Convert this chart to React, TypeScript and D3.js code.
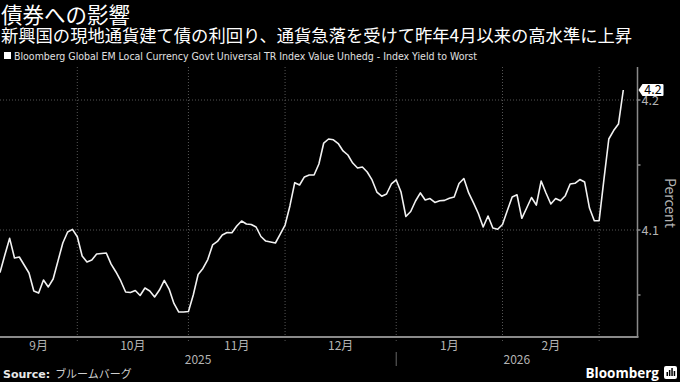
import React from "react";
import * as d3 from "d3";

const TITLE = "債券への影響";
const SUBTITLE = "新興国の現地通貨建て債の利回り、通貨急落を受けて昨年4月以来の高水準に上昇";
const LEGEND = "Bloomberg Global EM Local Currency Govt Universal TR Index Value Unhedg - Index Yield to Worst";
const SOURCE_LABEL = "Source:";
const SOURCE_TEXT = "ブルームバーグ";
const UNIT = "Percent";

// Trading days (weekdays) from 2025-09-09 to 2026-03-09
const START_DATE = new Date(2025, 8, 9);
const END_DATE = new Date(2026, 2, 10);

const yields = [
  4.0672, 4.0808, 4.0936, 4.0785, 4.0792, 4.0731, 4.0669, 4.0531, 4.0515, 4.0615,
  4.0562, 4.0623, 4.0762, 4.09, 4.0985, 4.1005, 4.0948, 4.08, 4.0754, 4.0769,
  4.0815, 4.0819, 4.0823, 4.0738, 4.0677, 4.0608, 4.0523, 4.0519, 4.0535, 4.0496,
  4.0554, 4.0531, 4.0485, 4.0538, 4.0612, 4.0546, 4.0435, 4.0369, 4.0369, 4.0373,
  4.05, 4.0658, 4.0704, 4.0773, 4.0885, 4.0912, 4.0962, 4.0981, 4.0979, 4.1031,
  4.1069, 4.1046, 4.1042, 4.1023, 4.095, 4.0915, 4.0908, 4.09, 4.0969, 4.1038,
  4.1185, 4.1364, 4.1346, 4.1408, 4.1423, 4.1423, 4.1508, 4.1669, 4.17, 4.1694,
  4.1665, 4.1608, 4.1577, 4.1515, 4.1477, 4.1485, 4.1446, 4.1385, 4.1292, 4.126,
  4.1277, 4.1354, 4.1385, 4.1292, 4.1104, 4.1142, 4.1223, 4.1285, 4.1231, 4.1242,
  4.1212, 4.1225, 4.1228, 4.1244, 4.1254, 4.1358, 4.1396, 4.1285, 4.1208, 4.1127,
  4.1023, 4.1108, 4.1015, 4.1006, 4.1042, 4.115, 4.1254, 4.1271, 4.109, 4.1169,
  4.125, 4.1192, 4.1377, 4.1285, 4.12, 4.1242, 4.1225, 4.1264, 4.1354, 4.1359,
  4.1388, 4.1369, 4.1169, 4.1071, 4.1072, 4.1392, 4.17, 4.1765, 4.1815, 4.2077,
];

const monthLabels = ["9月", "10月", "11月", "12月", "1月", "2月"];
const yearLabels = ["2025", "2026"];
const yTickValues = [4.1, 4.2];
const yMinorTickValues = [4.05, 4.15];
const LAST_LABEL = "4.2";

const W = 680;
const H = 382;
const PLOT_LEFT = 0;
const PLOT_RIGHT = 637.5;
const PLOT_TOP = 67;
const PLOT_BOTTOM = 337;

const JP = "'Noto Sans CJK JP', 'Noto Sans', sans-serif";
const GRAY = "#b4b4b4";

export default function App() {
  const days = d3.timeDay
    .range(START_DATE, END_DATE)
    .filter((d) => d.getDay() !== 0 && d.getDay() !== 6)
    .slice(0, yields.length);
  const data = yields.map((v, i) => ({ i, v, d: days[i] }));

  const x = d3.scaleLinear().domain([0, 129]).range([0, 623.3]);
  const y = d3.scaleLinear().domain([4.1, 4.2]).range([230, 100]);

  const line = d3
    .line<{ i: number; v: number }>()
    .x((p) => x(p.i))
    .y((p) => y(p.v));

  // month boundaries
  const bounds: number[] = [];
  for (let i = 1; i < data.length; i++) {
    if (data[i].d.getMonth() !== data[i - 1].d.getMonth()) bounds.push(i);
  }
  const boundX = bounds.map((b) => x(b));
  const segStarts = [PLOT_LEFT, ...boundX];
  const monthPos = monthLabels.map((m, k) => ({
    m,
    cx: (segStarts[k] + segStarts[k + 1]) / 2,
  }));
  const yearBoundIdx = bounds.find((b) => data[b].d.getMonth() === 0) ?? 82;
  const yearX = x(yearBoundIdx);
  const yearPos = [
    { t: yearLabels[0], cx: (PLOT_LEFT + yearX) / 2 },
    { t: yearLabels[1], cx: (yearX + PLOT_RIGHT) / 2 },
  ];

  const last = data[data.length - 1];
  const lastY = y(last.v);

  return (
    <svg
      width={W}
      height={H}
      style={{ position: "absolute", left: 0, top: 0, background: "#000" }}
    >
      <rect x={0} y={0} width={W} height={H} fill="#000" />
      {/* Titles */}
      <text x={1} y={23} fill="#fff" fontSize={21.5} fontFamily={JP}>
        {TITLE}
      </text>
      <text x={1} y={42} fill="#fff" fontSize={17.3} fontFamily={JP}>
        {SUBTITLE}
      </text>
      {/* Legend */}
      <rect x={4} y={52} width={7} height={7} fill="#fff" />
      <text
        x={14}
        y={60}
        fill="#e0e0e0"
        fontSize={11}
        fontFamily="'Liberation Sans Narrow', 'DejaVu Sans Condensed', sans-serif"
        textLength={463}
        lengthAdjust="spacingAndGlyphs"
      >
        {LEGEND}
      </text>

      {/* Grid: horizontal */}
      {yTickValues.map((t) => (
        <line
          key={"h" + t}
          x1={PLOT_LEFT}
          x2={PLOT_RIGHT}
          y1={y(t)}
          y2={y(t)}
          stroke="#555"
          strokeWidth={1}
          strokeDasharray="1,2"
        />
      ))}
      {/* Grid: vertical */}
      {boundX.map((bx, k) => (
        <line
          key={"v" + k}
          x1={bx}
          x2={bx}
          y1={PLOT_TOP}
          y2={PLOT_BOTTOM + 4}
          stroke="#555"
          strokeWidth={1}
          strokeDasharray="1,2"
        />
      ))}

      {/* Axes */}
      <line
        x1={PLOT_LEFT}
        x2={PLOT_RIGHT + 1}
        y1={PLOT_BOTTOM}
        y2={PLOT_BOTTOM}
        stroke="#8a8a8a"
        strokeWidth={2}
      />
      <line
        x1={PLOT_RIGHT}
        x2={PLOT_RIGHT}
        y1={PLOT_TOP}
        y2={PLOT_BOTTOM}
        stroke="#8a8a8a"
        strokeWidth={1.5}
      />
      {[...yTickValues, ...yMinorTickValues].map((t) => (
        <line
          key={"t" + t}
          x1={PLOT_RIGHT}
          x2={PLOT_RIGHT + 3}
          y1={y(t)}
          y2={y(t)}
          stroke="#8a8a8a"
          strokeWidth={1.5}
        />
      ))}
      {yTickValues.map((t) => (
        <text
          key={"yl" + t}
          x={PLOT_RIGHT + 4}
          y={y(t) + 4.5}
          fill={GRAY}
          fontSize={12.5}
          fontFamily={JP}
        >
          {d3.format(".1f")(t)}
        </text>
      ))}
      <text
        transform={`translate(665,203) rotate(90)`}
        textAnchor="middle"
        fill={GRAY}
        fontSize={14}
        fontFamily={JP}
      >
        {UNIT}
      </text>

      {/* Month labels */}
      {monthPos.map((p) => (
        <text
          key={p.m}
          x={p.cx}
          y={350}
          textAnchor="middle"
          fill={GRAY}
          fontSize={12}
          fontFamily={JP}
        >
          {p.m}
        </text>
      ))}
      {yearPos.map((p) => (
        <text
          key={p.t}
          x={p.cx}
          y={364}
          textAnchor="middle"
          fill={GRAY}
          fontSize={12}
          fontFamily={JP}
        >
          {p.t}
        </text>
      ))}
      <line x1={yearX} x2={yearX} y1={352} y2={366} stroke="#666" strokeWidth={1} />

      {/* Data line */}
      <path
        d={line(data) || ""}
        fill="none"
        stroke="#f2f2f2"
        strokeWidth={1.6}
        strokeLinejoin="round"
      />

      {/* Last value label */}
      <path
        d={`M${PLOT_RIGHT + 1},${lastY} L${PLOT_RIGHT + 5},${lastY - 6} L${PLOT_RIGHT + 25},${lastY - 6} Q${PLOT_RIGHT + 26},${lastY - 6} ${PLOT_RIGHT + 26},${lastY - 5} L${PLOT_RIGHT + 26},${lastY + 5} Q${PLOT_RIGHT + 26},${lastY + 6} ${PLOT_RIGHT + 25},${lastY + 6} L${PLOT_RIGHT + 5},${lastY + 6} Z`}
        fill="#fff"
      />
      <text
        x={PLOT_RIGHT + 15.5}
        y={lastY + 4.5}
        textAnchor="middle"
        fill="#000"
        fontSize={12.5}
        fontFamily={JP}
      >
        {LAST_LABEL}
      </text>

      {/* Footer */}
      <text x={3} y={378} fontSize={11} fontFamily={JP}>
        <tspan fill="#e8e8e8" fontWeight="bold" fontFamily="'DejaVu Sans', sans-serif">
          {SOURCE_LABEL}
        </tspan>
        <tspan fill="#cfcfcf" dx={5}>
          {SOURCE_TEXT}
        </tspan>
      </text>
      <text
        x={659}
        y={378}
        textAnchor="end"
        fill="#fff"
        fontSize={13.5}
        fontWeight="bold"
        fontFamily="'Open Sans', 'DejaVu Sans', sans-serif"
      >
        Bloomberg
      </text>
      <rect x={664} y={366} width={13} height={13} rx={2} fill="#fff" />
      {[0, 1, 2, 3].map((k) => (
        <rect
          key={"ic" + k}
          x={666.5 + k * 2.4}
          y={376 - [4, 6, 8, 5][k]}
          width={1.5}
          height={[4, 6, 8, 5][k]}
          fill="#000"
        />
      ))}
    </svg>
  );
}
